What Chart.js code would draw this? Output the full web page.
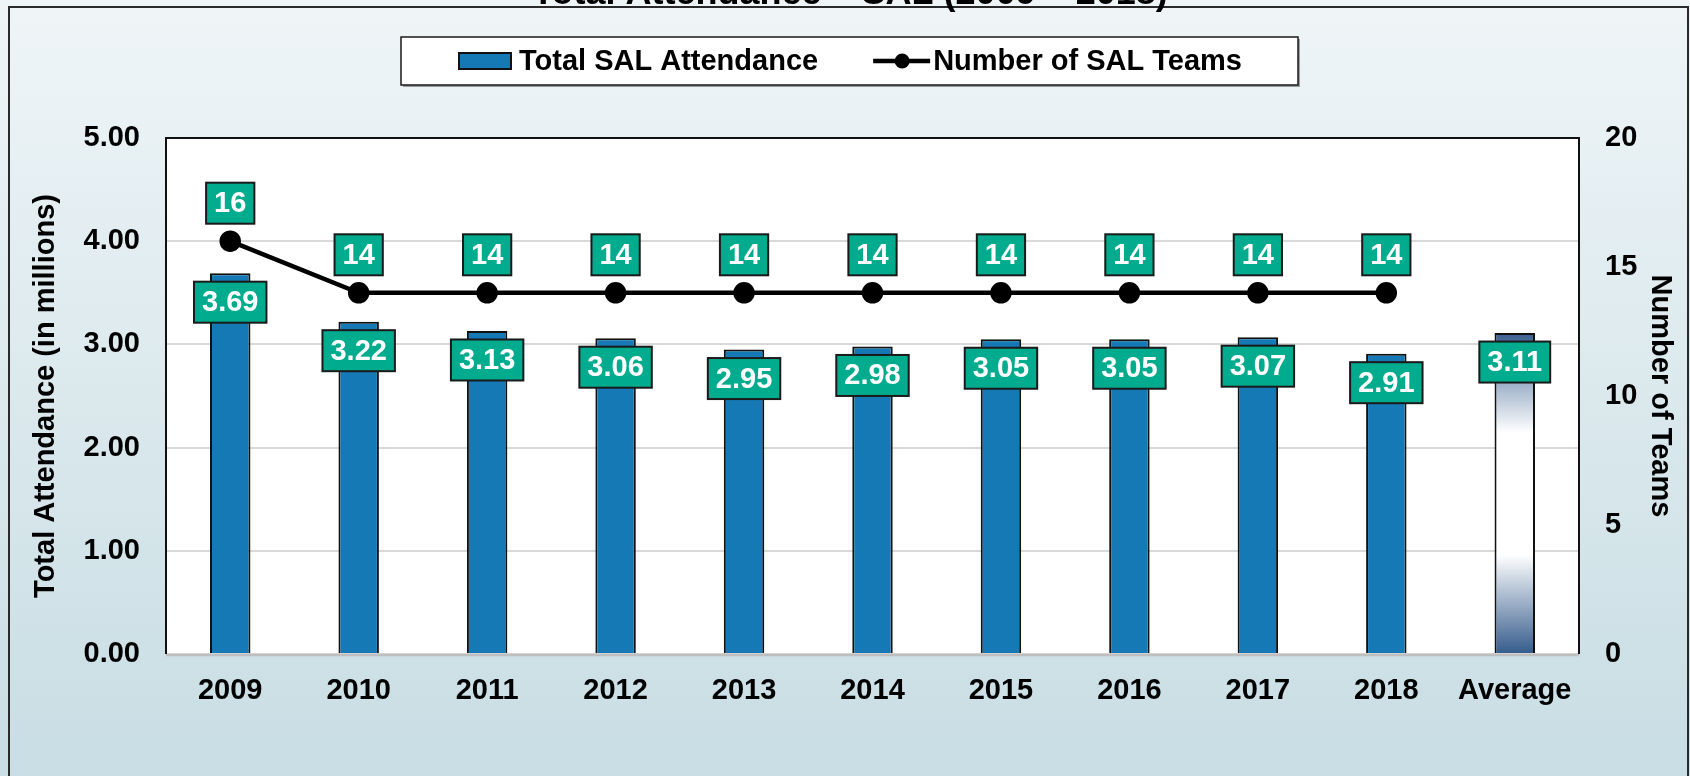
<!DOCTYPE html>
<html>
<head>
<meta charset="utf-8">
<script src="https://cdn.jsdelivr.net/npm/chart.js@4.4.1/dist/chart.umd.min.js"></script>
<style>
  html, body { margin: 0; padding: 0; overflow: hidden; background: #eef4f6; }
  canvas { display: block; }
</style>
</head>
<body>
<canvas id="chart" width="1690" height="776"></canvas>
<script>
// ── data ──────────────────────────────────────
const categories = ['2009', '2010', '2011', '2012', '2013', '2014', '2015', '2016', '2017', '2018', 'Average'];
const attendance = [3.69, 3.22, 3.13, 3.06, 2.95, 2.98, 3.05, 3.05, 3.07, 2.91, 3.11];
const teams = [16, 14, 14, 14, 14, 14, 14, 14, 14, 14, null];
const leftTicks = { min: 0, max: 5, step: 1 };
const rightTicks = { min: 0, max: 20, step: 5 };
const chartTitle = 'Total Attendance – SAL (2009 – 2018)';

// ── styles ────────────────────────────────────
const FONT = '"Liberation Sans", Arial, sans-serif';
const barBlue = '#1479b4';
const teal = '#00ab8e';
const ink = '#000000';

function avgGradient(ctx) {
  const chart = ctx.chart;
  const area = chart.chartArea;
  if (!area || categories[ctx.dataIndex] !== 'Average') return barBlue;
  const top = chart.scales.y.getPixelForValue(attendance[ctx.dataIndex]);
  const g = chart.ctx.createLinearGradient(0, top, 0, area.bottom);
  g.addColorStop(0, '#3a6091');
  g.addColorStop(0.31, '#ffffff');
  g.addColorStop(0.69, '#ffffff');
  g.addColorStop(1, '#355b8c');
  return g;
}

// background, outer frame, white plot area
const backdrop = {
  id: 'backdrop',
  beforeDraw(chart) {
    const c = chart.ctx, a = chart.chartArea;
    c.save();
    const bg = c.createLinearGradient(0, 0, 0, chart.height);
    bg.addColorStop(0, '#eff5f7');
    bg.addColorStop(1, '#c8dde4');
    c.fillStyle = bg;
    c.fillRect(0, 0, chart.width, chart.height);
    c.strokeStyle = '#2a2a2a';
    c.lineWidth = 2;
    c.strokeRect(9, 7, chart.width - 11, chart.height + 20);
    c.fillStyle = '#ffffff';
    c.fillRect(a.left, a.top, a.right - a.left, a.bottom - a.top);
    // title, sits mostly above the top edge
    c.fillStyle = ink;
    c.font = 'bold 36px ' + FONT;
    c.textAlign = 'center';
    c.textBaseline = 'alphabetic';
    c.fillText(chartTitle, 850, 4);
    c.restore();
  },
  beforeDatasetsDraw(chart) {
    const c = chart.ctx, a = chart.chartArea;
    c.save();
    c.strokeStyle = '#bfbfbf';
    c.lineWidth = 2.5;
    c.beginPath();
    c.moveTo(a.left, a.bottom + 1);
    c.lineTo(a.right, a.bottom + 1);
    c.stroke();
    c.strokeStyle = '#111';
    c.lineWidth = 2;
    c.beginPath();
    c.moveTo(a.left, a.bottom);
    c.lineTo(a.left, a.top);
    c.lineTo(a.right, a.top);
    c.lineTo(a.right, a.bottom);
    c.stroke();
    c.restore();
  }
};

// teal value boxes
const valueBoxes = {
  id: 'valueBoxes',
  afterDatasetsDraw(chart) {
    const c = chart.ctx;
    c.save();
    c.font = 'bold 29px ' + FONT;
    c.textAlign = 'center';
    c.textBaseline = 'middle';
    chart.data.datasets.forEach((ds, di) => {
      const meta = chart.getDatasetMeta(di);
      meta.data.forEach((el, i) => {
        const v = ds.data[i];
        if (v == null) return;
        const isBar = ds.type === 'bar';
        const txt = isBar ? v.toFixed(2) : String(v);
        const cy = isBar ? el.y + 29 : el.y - 38;
        const w = c.measureText(txt).width + 16, h = 41;
        c.fillStyle = teal;
        c.fillRect(el.x - w / 2, cy - h / 2, w, h);
        c.lineWidth = 2;
        c.strokeStyle = '#1a1a1a';
        c.strokeRect(el.x - w / 2, cy - h / 2, w, h);
        c.fillStyle = '#ffffff';
        c.fillText(txt, el.x, cy + 1);
      });
    });
    c.restore();
  }
};

// boxed legend
const boxLegend = {
  id: 'boxLegend',
  afterDraw(chart) {
    const c = chart.ctx;
    const box = { left: 401, top: 37, width: 897, height: 48 };
    const midY = box.top + box.height / 2;
    c.save();
    c.fillStyle = 'rgba(0,0,0,0.35)';
    c.fillRect(box.left + 2, box.top + 2, box.width, box.height);
    c.fillStyle = '#ffffff';
    c.fillRect(box.left, box.top, box.width, box.height);
    c.strokeStyle = '#1a1a1a';
    c.lineWidth = 1.5;
    c.strokeRect(box.left, box.top, box.width, box.height);

    c.font = 'bold 29px ' + FONT;
    c.textBaseline = 'middle';
    c.textAlign = 'left';
    const [barDs, lineDs] = [chart.data.datasets[1], chart.data.datasets[0]];
    let x = box.left + 58;
    c.fillStyle = barBlue;
    c.fillRect(x, midY - 8, 52, 16);
    c.lineWidth = 2;
    c.strokeStyle = '#111';
    c.strokeRect(x, midY - 8, 52, 16);
    x += 60;
    c.fillStyle = ink;
    c.fillText(barDs.label, x, midY + 1);
    x += c.measureText(barDs.label).width + 55;
    c.strokeStyle = ink;
    c.lineWidth = 4.5;
    c.beginPath();
    c.moveTo(x, midY);
    c.lineTo(x + 57, midY);
    c.stroke();
    c.beginPath();
    c.arc(x + 29, midY, 7.5, 0, Math.PI * 2);
    c.fillStyle = ink;
    c.fill();
    x += 60;
    c.fillText(lineDs.label, x, midY + 1);
    c.restore();
  }
};

const tickFont = { family: FONT, size: 29, weight: 'bold' };

new Chart(document.getElementById('chart'), {
  data: {
    labels: categories,
    datasets: [
      {
        type: 'line',
        label: 'Number of SAL Teams',
        data: teams,
        yAxisID: 'y1',
        borderColor: ink,
        borderWidth: 4.5,
        pointRadius: 8.5,
        pointBackgroundColor: ink,
        pointBorderColor: ink,
        tension: 0,
        order: 0,
      },
      {
        type: 'bar',
        label: 'Total SAL Attendance',
        data: attendance,
        yAxisID: 'y',
        backgroundColor: avgGradient,
        borderColor: '#111',
        borderWidth: 2,
        barPercentage: 0.9,
        categoryPercentage: 0.35,
        order: 1,
      },
    ],
  },
  options: {
    responsive: false,
    animation: false,
    devicePixelRatio: 1,
    layout: { padding: { top: 138, left: 0, right: 0, bottom: 0 } },
    plugins: { legend: { display: false }, title: { display: false }, tooltip: { enabled: false } },
    scales: {
      x: {
        offset: true,
        grid: { display: false, drawTicks: false },
        border: { display: false },
        ticks: { color: ink, font: tickFont, padding: 20, maxRotation: 0 },
        afterFit: s => { s.height = 122; },
      },
      y: {
        position: 'left',
        min: leftTicks.min, max: leftTicks.max,
        grid: { color: '#d9d9d9', lineWidth: 2, drawTicks: false },
        border: { display: false },
        ticks: { stepSize: leftTicks.step, color: ink, font: tickFont, padding: 26, callback: v => v.toFixed(2) },
        title: { display: true, text: 'Total Attendance (in millions)', color: ink, font: tickFont, padding: { top: 29, bottom: 0 } },
        afterFit: s => { s.width = 166; },
      },
      y1: {
        position: 'right',
        min: rightTicks.min, max: rightTicks.max,
        grid: { display: false, drawTicks: false },
        border: { display: false },
        ticks: { stepSize: rightTicks.step, color: ink, font: tickFont, padding: 26 },
        title: { display: true, text: 'Number of Teams', color: ink, font: tickFont, padding: { top: 13, bottom: 0 } },
        afterFit: s => { s.width = 111; },
      },
    },
  },
  plugins: [backdrop, valueBoxes, boxLegend],
});
</script>
</body>
</html>
